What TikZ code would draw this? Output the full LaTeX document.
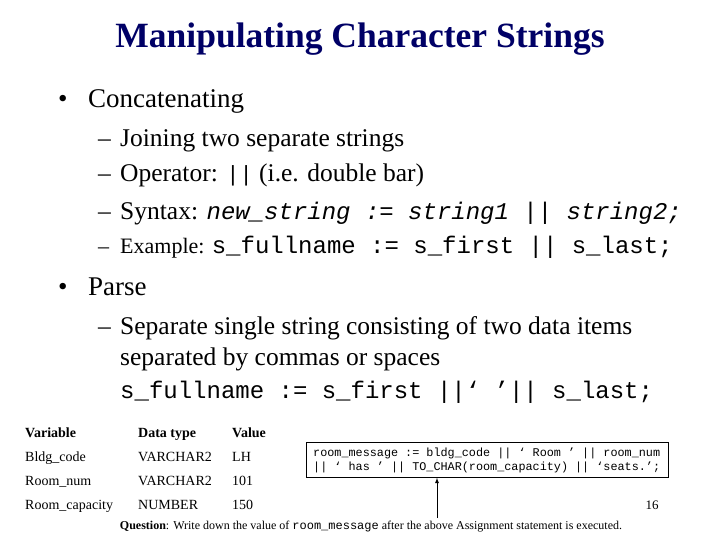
\documentclass[tikz,border=0pt]{standalone}
\usepackage{fontspec}
\setmainfont{Liberation Serif}
\setmonofont{Liberation Mono}
\begin{document}
\begin{tikzpicture}[x=1pt,y=-1pt,
  lvl1/.style={anchor=base west,font=\fontsize{27}{29}\selectfont,inner sep=0},
  lvl2/.style={anchor=base west,font=\fontsize{25.5}{27}\selectfont,inner sep=0},
  tb/.style={anchor=base west,font=\fontsize{14}{16}\selectfont,inner sep=0},
  tbh/.style={tb,font=\fontsize{14}{16}\selectfont\bfseries}]
\useasboundingbox (0,0) rectangle (720,540);
\node[anchor=base,font=\fontsize{35.5}{38}\selectfont\bfseries,text={rgb,255:red,0;green,0;blue,102},inner sep=0] (title) at (360,48) {Manipulating Character Strings};
\node[lvl1] (m1) at (58,108) {\textbullet};
\node[lvl1] (b1) at (88,108) {Concatenating};
\node[lvl2] (d1) at (98,147) {–};
\node[lvl2] (s1) at (120,147) {Joining two separate strings};
\node[lvl2] (d2) at (98,182) {–};
\node[lvl2] (s2) at (120,182) {Operator: \texttt{\fontsize{22}{24}\selectfont||} (i.e. double bar)};
\node[lvl2] (d3) at (98,220) {–};
\node[lvl2] (s3) at (120,220) {Syntax: \texttt{\fontsize{24}{26}\selectfont\itshape new\_string := string1 || string2;}};
\node[lvl2,font=\fontsize{22}{24}\selectfont] (d4) at (98,254) {–};
\node[lvl2,font=\fontsize{22}{24}\selectfont] (s4) at (120,254) {Example: \texttt{\fontsize{24}{26}\selectfont s\_fullname := s\_first || s\_last;}};
\node[lvl1] (m2) at (58,295) {\textbullet};
\node[lvl1] (b2) at (88,295) {Parse};
\node[lvl2] (d5) at (98,334) {–};
\node[lvl2] (p1) at (120,334) {Separate single string consisting of two data items};
\node[lvl2] (p2) at (120,365) {separated by commas or spaces};
\node[lvl2,font=\fontsize{24}{26}\selectfont\ttfamily] (p3) at (120,398) {s\_fullname := s\_first ||‘ ’|| s\_last;};
\node[tbh] (h1) at (25,437) {Variable};
\node[tbh] (h2) at (138,437) {Data type};
\node[tbh] (h3) at (232,437) {Value};
\node[tb] (r11) at (25,461) {Bldg\_code};
\node[tb] (r12) at (138,461) {VARCHAR2};
\node[tb] (r13) at (232,461) {LH};
\node[tb] (r21) at (25,485) {Room\_num};
\node[tb] (r22) at (138,485) {VARCHAR2};
\node[tb] (r23) at (232,485) {101};
\node[tb] (r31) at (25,509) {Room\_capacity};
\node[tb] (r32) at (138,509) {NUMBER};
\node[tb] (r33) at (232,509) {150};
\node[draw,thick,minimum width=362pt,minimum height=35pt,anchor=north west,inner sep=0] (box) at (306,442) {};
\node[anchor=north west,align=left,font=\fontsize{11.8}{14}\selectfont\ttfamily,inner sep=0] (code) at (313,448) {room\_message := bldg\_code || ‘ Room ’ || room\_num\\|| ‘ has ’ || TO\_CHAR(room\_capacity) || ‘seats.’;};
\node[anchor=base,font=\fontsize{13}{15}\selectfont,inner sep=0] (num) at (652,509) {16};
\node[anchor=base,font=\fontsize{12}{14}\selectfont,inner sep=0] (q) at (371,529) {\textbf{Question}: Write down the value of \texttt{room\_message} after the above Assignment statement is executed.};
\coordinate (qa) at (437,518);
\draw[thick,-latex] (qa) -- (box.south -| qa);
\end{tikzpicture}
\end{document}
